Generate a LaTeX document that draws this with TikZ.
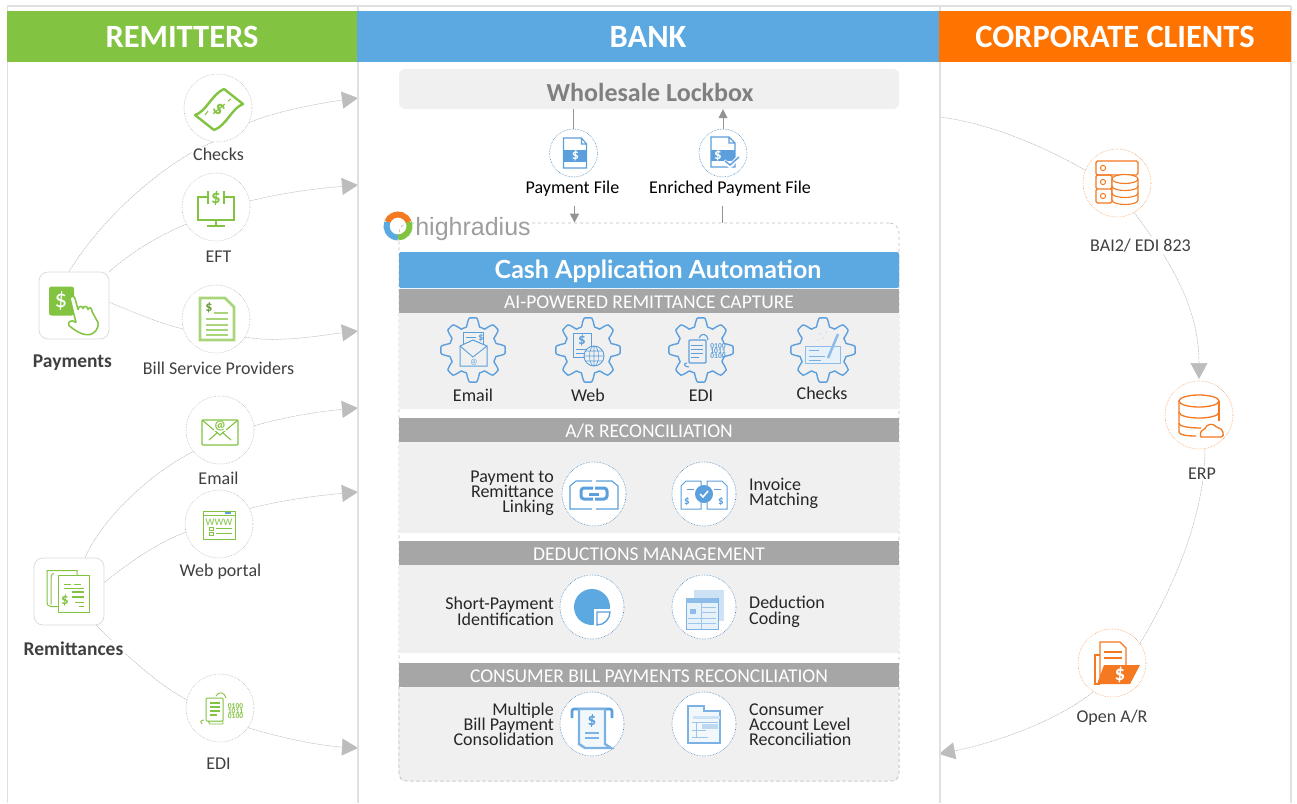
\documentclass[tikz,border=0pt]{standalone}
\usepackage{fontspec}
\setmainfont{Carlito}
\newfontfamily\latofont{Lato}
\newfontfamily\logofont{Liberation Sans}
\usetikzlibrary{arrows.meta,backgrounds}
\definecolor{cgreen}{HTML}{82C341}
\definecolor{cblue}{HTML}{5BA9E0}
\definecolor{iblue}{HTML}{5B9FDC}
\definecolor{corange}{HTML}{FF7300}
\definecolor{iorange}{HTML}{F47920}
\definecolor{secbg}{HTML}{F0F0F0}
\definecolor{barg}{HTML}{A6A6A6}
\definecolor{colline}{HTML}{E0E0E0}
\definecolor{connc}{HTML}{BDBDBD}
\definecolor{txt}{HTML}{404040}
\newcommand\fsz[1]{\fontsize{#1}{#1}\selectfont}
\newcommand\tightl[1]{\fontsize{18}{#1}\selectfont\lineskiplimit=-20pt\lineskip=0pt }
\tikzset{
  head/.style={fill=#1,text=white,font=\fsz{32.5}\bfseries,minimum height=51pt,inner sep=0pt,outer sep=0pt},
  bar/.style={fill=barg,text=white,font=\fsz{19.5},minimum width=500pt,minimum height=24pt,inner sep=0pt,text height=15pt,text depth=0pt},
  conn/.style={draw=connc,line width=.5pt,dash pattern=on 2pt off .7pt},
  arr/.style={conn,-{Triangle[length=16pt,width=17pt,color=connc]}},
  lab/.style={text=txt,font=\fsz{18},inner sep=1.5pt,fill=white},
  blab/.style={text=txt,font=\fsz{19.5}\bfseries,inner sep=1.5pt,fill=white},
  ring/.style={circle,draw=#1,densely dotted,line width=.6pt,fill=white,minimum size=68pt,inner sep=0pt},
  gring/.style={ring=gray!55},
  oring/.style={ring=iorange!70},
  bring/.style={ring=iblue!85!black,minimum size=64pt},
  tbox/.style={rounded corners=9pt,draw=black!15,line width=.7pt,fill=white,minimum width=70pt,minimum height=67pt},
  sl/.style={text=black!85,font=\tightl{15},inner sep=0pt,align=right},
  sll/.style={sl,align=left},
  gl/.style={text=black!85,font=\fsz{18},inner sep=0pt},
  flab/.style={text=black,font=\fsz{18},inner sep=1pt},
  flow/.style={draw=gray!85,line width=.8pt},
  flowa/.style={flow,-{Triangle[length=9pt,width=9pt,color=gray!85]}},
  % icons
  iccheck/.pic={
    \draw[cgreen,line width=2.4pt,line join=round] (-23,7) .. controls (-12,4) and (-6,-14) .. (6,-19) -- (25,-4) .. controls (14,0) and (8,18) .. (-4,22) -- cycle;
    \node[text=cgreen,font=\fsz{20}\bfseries,rotate=-45,inner sep=0] at (1,1) {\$};
    \draw[cgreen,line width=1pt] (-10,3)--(-13,7) (10,-7)--(13,-9);
  },
  iceft/.pic={
    \draw[cgreen,line width=1.1pt] (-8,-10)--(-18,-10)--(-18,13)--(18,13)--(18,-10)--(8,-10) (0,13)--(0,19) (-9,19)--(9,19);
    \draw[cgreen,line width=1.4pt] (-8,-16)--(-8,-3) (8,-16)--(8,-3);
    \node[text=cgreen,font=\fsz{19}\bfseries,inner sep=0] at (0,-9) {\$};
  },
  icbsp/.pic={
    \draw[cgreen!70,line width=2.8pt,fill=white] (-16,-21)--(9,-21)--(18,-12)--(18,21)--(-16,21)--cycle;
    \node[text=cgreen!80!black,font=\fsz{14}\bfseries,inner sep=0] at (-7,-11) {\$};
    \draw[cgreen!70,line width=1.8pt] (-2,-6)--(12,-6) (-10,0)--(12,0) (-10,6)--(12,6) (-10,11)--(12,11) (-10,16)--(12,16);
  },
  ichand/.pic={
    \fill[cgreen,rounded corners=2.5pt] (-25,-19) rectangle (0,10);
    \node[text=white,font=\fsz{25},inner sep=0] at (-13,-5) {\$};
    \draw[cgreen,line width=1.5pt,fill=white,line join=round] (-4,-7) .. controls (-3,-10) and (0,-10) .. (1,-7) -- (4,4) .. controls (5,0) and (8,0) .. (9,3) .. controls (10,0) and (13,0) .. (14,4) .. controls (15,1) and (18,2) .. (18,6) -- (24,17) .. controls (25,24) and (20,28) .. (16,29) .. controls (10,30) and (3,27) .. (-5,20) .. controls (-7,17) and (-3,13) .. (2,17) -- cycle;
  },
  icmail/.pic={
    \draw[cgreen,line width=1.2pt,rounded corners=1pt] (-18,-10) rectangle (18,15);
    \draw[cgreen,line width=1.1pt] (-18,-10)--(0,5)--(18,-10) (-11,10)--(-3,3) (11,10)--(3,3);
    \node[text=cgreen,font=\fsz{13}\bfseries,inner sep=0,fill=white] at (0,-4) {@};
  },
  icweb/.pic={
    \draw[cgreen,line width=1pt] (-16,-13) rectangle (16,15) (-16,-9)--(16,-9);
    \fill[iblue] (6,-12) rectangle (12,-10);
    \node[text=cgreen,font=\fsz{10},inner sep=0] at (0,-2) {WWW};
    \draw[cgreen,line width=.7pt] (-10,3) rectangle (-6,6) (-10,8) rectangle (-6,11);
    \draw[cgreen,line width=1.3pt] (-3,4.5)--(13,4.5) (-3,9.5)--(13,9.5);
  },
  icedi/.pic={
    \draw[cgreen,line width=.9pt] (-12,-7)--(-12,13)--(3,13)--(3,16)--(-10,16)--(-12,13);
    \draw[cgreen,line width=1pt,fill=white,rounded corners=1pt] (-14,-10) rectangle (3,13);
    \draw[cgreen,line width=1.1pt] (-10,-5)--(0,-5) (-10,-1)--(0,-1) (-10,3)--(0,3) (-10,7)--(-3,7);
    \draw[cgreen,line width=.9pt] (-4,-12) .. controls (-2,-17) and (5,-16) .. (6,-10) (-16,12) .. controls (-20,12) and (-20,15) .. (-18,16);
    \node[text=cgreen,font={\fontsize{7.5}{5}\selectfont\bfseries\lineskiplimit=-20pt\lineskip=0pt },inner sep=0,align=center] at (15.5,3.5) {0100\\1011\\0100};
  },
  icremit/.pic={
    \draw[cgreen,line width=1pt] (-11,15)--(-18,15) .. controls (-21,15) and (-22,13) .. (-22,11) -- (-22,-21)--(8,-21)--(8,-16);
    \draw[cgreen,line width=1pt] (-15,-18) .. controls (-18,-18) and (-18,-14) .. (-18,-12) -- (-18,13);
    \draw[cgreen,line width=1pt,fill=white] (-11,-16) -- (20,-16) -- (20,21) -- (-11,21) -- (-11,-16);
    \node[text=cgreen,font=\fsz{15}\bfseries,inner sep=0] at (-4,9) {\$};
    \draw[cgreen,line width=1pt] (-5,-7)--(2,-7) (5,-7)--(12,-7) (-5,-3)--(15,-3);
    \draw[cgreen,line width=2pt] (3,0)--(15,0) (3,5)--(15,5);
    \draw[cgreen,line width=1pt] (6,11)--(15,11) (10,15)--(15,15);
  },
  icfile/.pic={
    \draw[iblue,line width=1.1pt,fill=white] (-10,-15)--(8,-15)--(13,-9)--(13,15)--(-10,15)--cycle (8,-15)--(8,-9)--(13,-9);
    \fill[iblue] (-10,-3.5) rectangle (13,8.5);
    \node[text=white,font=\fsz{14}\bfseries,inner sep=0] at (2,2.5) {\$};
  },
  icfilec/.pic={
    \draw[iblue,line width=1.1pt,fill=white] (-12,-16)--(6,-16)--(12,-10)--(12,14)--(-12,14)--cycle (6,-16)--(6,-10)--(12,-10);
    \fill[iblue] (-12,-3) rectangle (12,8);
    \node[text=white,font=\fsz{15}\bfseries,inner sep=0] at (-5,2) {\$};
    \draw[white,line width=4pt] (1,8)--(7,13)--(17,3);
    \draw[iblue,line width=1.4pt] (2,8)--(7,12)--(16,4);
  },
  gearc/.pic={
    \draw[iblue,line width=1.4pt,fill=secbg,line join=round] plot[domain=0:359,samples=180,smooth] (\x:{28+4.2*max(-1,min(1,1.7*cos(8*\x)))}) -- cycle;
  },
  igmail/.pic={
    \draw[iblue,line width=.9pt] (-10,-18) rectangle (10,0);
    \draw[iblue,line width=.9pt] (-7,-13)--(3,-13) (-4,-8)--(7,-8);
    \node[text=iblue,font=\fsz{10}\bfseries,inner sep=0] at (8,-12) {\$};
    \draw[iblue,line width=1pt,fill=secbg] (-13,-4)--(0,-10)--(14,-4)--(14,16)--(-13,16)--cycle;
    \draw[iblue,line width=.9pt] (-13,-4)--(0,7)--(14,-4);
    \node[text=iblue,font=\fsz{8},inner sep=0] at (1,12) {@};
  },
  igweb/.pic={
    \draw[iblue,line width=1pt] (-15,-17) rectangle (3,7);
    \node[text=iblue,font=\fsz{15}\bfseries,inner sep=0] at (-6,-10) {\$};
    \draw[iblue,line width=.9pt] (-12,-1)--(0,-1) (-12,3)--(-2,3);
    \draw[iblue,line width=.9pt,fill=secbg] (6,6) circle (10);
    \draw[iblue,line width=.6pt] (6,6) ellipse (4.5 and 10) (-4,6)--(16,6) (-2.5,1)--(14.5,1) (-2.5,11)--(14.5,11) (6,-4)--(6,16);
  },
  igedi/.pic={
    \draw[iblue,line width=1.1pt,rounded corners=1pt] (-12,-10) rectangle (5,13);
    \draw[iblue,line width=1pt] (-10,-5)--(2,-5) (-10,-1)--(2,-1) (-10,3)--(2,3) (-10,7)--(-2,7);
    \draw[iblue,line width=1.1pt] (-2,-12) .. controls (0,-18) and (7,-16) .. (7,-10) (-14,13) .. controls (-18,13) and (-17,17) .. (-12,17);
    \node[text=iblue,font={\fontsize{7.5}{5}\selectfont\bfseries\lineskiplimit=-20pt\lineskip=0pt },inner sep=0,align=center] at (17,1) {0100\\1011\\0100};
  },
  igchk/.pic={
    \draw[iblue!70,line width=.9pt,fill=iblue!15] (-18,-4) rectangle (17,13);
    \draw[iblue!80,line width=.8pt] (-14,0)--(-4,0) (-14,6)--(2,6) (-14,10)--(-2,10);
    \draw[iblue!70,line width=2.5pt] (5,8)--(15,-16);
    \fill[iblue!30] (-3,-16) circle (1) (0,-12) circle (1) (3,-18) circle (1) (-5,-10) circle (.8);
  },
  iclink/.pic={
    \draw[iblue,line width=1.1pt] (-2,-13)--(-18,-13)--(-24,-8)--(-24,15)--(-2,15) (2,-13)--(18,-13)--(24,-8)--(24,15)--(2,15);
    \draw[iblue,line width=3pt,rounded corners=3pt] (-1,-6)--(-13,-6)--(-13,5)--(-1,5) (1,-6)--(13,-6)--(13,5)--(1,5);
    \draw[iblue,line width=3pt] (-5,0)--(5,0);
  },
  icmatch/.pic={
    \draw[iblue,line width=1pt] (-3,-13)--(-18,-13)--(-23,-8)--(-23,15)--(-3,15)--cycle (3,-13)--(18,-13)--(23,-8)--(23,15)--(3,15)--cycle;
    \draw[iblue,line width=.8pt] (-17,-5)--(-10,-5) (10,-5)--(17,-5);
    \node[text=iblue,font=\fsz{11}\bfseries,inner sep=0] at (-17,8) {\$};
    \node[text=iblue,font=\fsz{11}\bfseries,inner sep=0] at (17,8) {\$};
    \fill[iblue] (0,0) circle (9);
    \draw[white,line width=1.6pt] (-4,0)--(-1,3)--(4,-3);
  },
  icpie/.pic={
    \fill[cblue] (0,0) circle (18);
    \draw[white,line width=1.5pt,fill=white] (3,3) rectangle (19,19);
    \draw[iblue,line width=1.3pt,fill=white] (5,5)--(18,5) arc (0:90:13) -- cycle;
  },
  iccode/.pic={
    \fill[iblue!30] (-10,-17) rectangle (20,14);
    \draw[iblue!80,line width=1pt,fill=iblue!15] (-18,-9) rectangle (14,22);
    \fill[iblue!70] (-18,-9) rectangle (14,-4);
    \fill[iblue!70] (-14,2) rectangle (-8,7);
    \draw[iblue!60,line width=1pt] (-2,0)--(12,0) (-2,5)--(12,5) (-16,11)--(12,11) (-16,16)--(12,16) (-3,-4)--(-3,22);
  },
  icatm/.pic={
    \draw[iblue,line width=2.6pt,rounded corners=2pt] (-20,-6)--(-20,-15)--(20,-15)--(20,-6);
    \draw[iblue!80,line width=2.4pt,fill=iblue!8] (-13,-15)--(13,-15)--(13,20)--(19,24)--(-7,24)--(-13,20)--cycle;
    \node[text=iblue,font=\fsz{17}\bfseries,inner sep=0] at (0,-3) {\$};
    \draw[iblue!80,line width=1.4pt] (-7,9)--(7,9) (-7,14)--(7,14);
  },
  icfold/.pic={
    \draw[iblue!80,line width=2pt,fill=iblue!8] (-16,-18)--(0,-18)--(0,-13)--(16,-13)--(16,19)--(-16,19)--cycle;
    \fill[iblue!30] (-11,-8) rectangle (16,-5);
    \draw[iblue!60,line width=1pt] (-12,-2)--(14,-2) (-8,-2)--(-8,14) (-12,6)--(2,6) (-12,13)--(4,13);
    \fill[iblue!40] (-2,0) rectangle (14,5);
  },
  icsrv/.pic={
    \draw[iorange,line width=1.1pt,rounded corners=1.5pt] (-21,-22) rectangle (21,-8);
    \draw[iorange,line width=1.1pt,rounded corners=1.5pt] (-21,-8) rectangle (-5,6) (-21,6) rectangle (-5,20);
    \draw[iorange,line width=1pt] (-14,-15) circle (2.6) (-14,-1) circle (2.6) (-14,13) circle (2.6);
    \draw[iorange,line width=1.1pt,fill=white] (-5,-4) -- (-5,17) .. controls (-5,23) and (21,23) .. (21,17) -- (21,-4);
    \draw[iorange,line width=1.1pt,fill=white] (8,-4) ellipse (13 and 4.5);
    \draw[iorange,line width=1.1pt] (-5,3) .. controls (-5,9) and (21,9) .. (21,3) (-5,10) .. controls (-5,16) and (21,16) .. (21,10);
  },
  icdb/.pic={
    \draw[iorange,line width=1.3pt] (0,-14) ellipse (20 and 6);
    \draw[iorange,line width=1.3pt] (-20,-14)--(-20,17) .. controls (-20,20) and (-12,21) .. (-3,21);
    \draw[iorange,line width=1.3pt] (20,-14)--(20,6);
    \draw[iorange,line width=1.3pt] (-20,-3) .. controls (-20,5) and (20,5) .. (20,-3);
    \draw[iorange,line width=1.3pt] (-20,8) .. controls (-20,12) and (-8,13) .. (2,13);
    \draw[iorange,line width=1.3pt,fill=white,rounded corners=2pt] (6,22) -- (4,22) .. controls (1,22) and (1,15) .. (6,15) .. controls (7,9) and (15,8) .. (17,13) .. controls (23,12) and (27,22) .. (20,22) -- cycle;
  },
  icfol/.pic={
    \draw[iorange,line width=1.4pt] (-12,-8) -- (-17,-8)--(-17,21)--(-12,21);
    \draw[iorange,line width=1.4pt,fill=white] (-12,14)--(-12,-21)--(8,-21)--(14,-15)--(14,4);
    \draw[iorange,line width=1.5pt] (-8,-11)--(10,-11) (-8,-5)--(10,-5) ;
    \fill[iorange] (-8,2) -- (28,2) -- (18,21) -- (-15,21) -- cycle;
    \node[text=white,font=\fsz{21}\bfseries,inner sep=0] at (8,12) {\$};
  },
}
\begin{document}
\begin{tikzpicture}[x=1pt,y=-1pt]
\useasboundingbox (0,0) rectangle (1297,803);
% frame lines
\draw[colline,line width=1.6pt] (7,6)--(1291,6);
\foreach \xx in {7.5,358,940,1291}{\draw[colline,line width=1.6pt] (\xx,6)--(\xx,803);}
% column headers
\node[head=cgreen,minimum width=350pt] (hrem) at (182,36.5) {REMITTERS};
\node[head=cblue,minimum width=582pt] (hbank) at (648,36.5) {BANK};
\node[head=corange,minimum width=352pt] (hcorp) at (1115,36.5) {CORPORATE CLIENTS};
% left column
\node[gring] (checks) at (218,108) {}; \pic at (checks) {iccheck};
\node[gring] (eft) at (216,207) {}; \pic at (eft) {iceft};
\node[gring] (bsp) at (216,319) {}; \pic at (bsp) {icbsp};
\node[gring] (email) at (220,430) {}; \pic at (email) {icmail};
\node[gring] (web) at (219,524) {}; \pic at (web) {icweb};
\node[gring] (edi) at (220,708) {}; \pic at (edi) {icedi};
\node[tbox] (pay) at (74,305.5) {}; \pic at (pay) {ichand};
\node[tbox] (rem) at (69,591.5) {}; \pic at (rem) {icremit};
\node[lab] (lchecks) at (218.5,154.5) {Checks};
\node[lab] (left) at (218.5,257) {EFT};
\node[lab] (lbsp) at (218.5,368.5) {Bill Service Providers};
\node[lab] (lemail) at (218.5,478.5) {Email};
\node[lab] (lweb) at (220.5,572) {Web portal};
\node[lab] (ledi) at (218.5,763.5) {EDI};
\node[blab] (lpay) at (72.5,362.5) {Payments};
\node[blab] (lrem) at (73.5,648.5) {Remittances};
\coordinate (a1) at (358,98);
\coordinate (a2) at (358,185);
\coordinate (a3) at (358,331);
\coordinate (a4) at (358,408);
\coordinate (a5) at (358,492);
\coordinate (a6) at (358,748);
% bank top
\node[fill=secbg,rounded corners=6pt,minimum width=500pt,minimum height=40pt,inner sep=0pt] (lock) at (649,89) {};
\node[text=black!50,font=\fsz{26}\bfseries,inner sep=0pt] (locktxt) at (650,92) {Wholesale Lockbox};
\node[bring,minimum size=48pt] (pf) at (573.5,153) {}; \pic at (pf) {icfile};
\node[bring,minimum size=48pt] (epf) at (723,153) {}; \pic at (epf) {icfilec};
\node[flab] (lpf) at (572.5,188.5) {Payment File};
\node[flab] (lepf) at (730,188.5) {Enriched Payment File};
\coordinate (pfb) at (574.5,206);
\coordinate (epb) at (722.5,206);
% platform
\node[draw=black!25,dashed,rounded corners=10pt,line width=.7pt,minimum width=500pt,minimum height=558pt,inner sep=0pt] (plat) at (649,502) {};
\fill[secbg] (399,313) rectangle (899,409) (399,442) rectangle (899,533) (399,564) rectangle (899,653);
\fill[secbg,rounded corners=4pt] (399,687) -- (399,781) -- (899,781) -- (899,687) -- cycle;
\draw[black!25,dashed,line width=.7pt,rounded corners=8pt] (399,687)--(399,781)--(899,781)--(899,687);
\fill[cblue,rounded corners=2pt] (399,288) -- (399,252) -- (899,252) -- (899,288) -- cycle;
\node[text=white,font={\latofont\fsz{25}\bfseries},inner sep=0pt] (cash) at (658,271) {Cash Application Automation};
\node[bar] (b1) at (649,301) {AI-POWERED REMITTANCE CAPTURE};
\node[bar] (b2) at (649,430) {A/R RECONCILIATION};
\node[bar] (b3) at (649,552.5) {DEDUCTIONS MANAGEMENT};
\node[bar] (b4) at (649,675) {CONSUMER BILL PAYMENTS RECONCILIATION};
% logo
\node[fill=white,inner sep=1pt,text=black!38,font={\logofont\fsz{25}}] (logo) at (473,229) {highradius};
\draw[iorange,line width=6pt] (398,226) ++(200:11.5) arc (200:340:11.5);
\draw[cblue,line width=6pt] (398,226) ++(90:11.5) arc (90:200:11.5);
\draw[cgreen,line width=6pt] (398,226) ++(340:11.5) arc (340:450:11.5);
% gears
\coordinate (g1) at (473,350); \coordinate (g2) at (588,350); \coordinate (g3) at (701,350); \coordinate (g4) at (823,350);
\pic at (g1) {gearc}; \pic at (g1) {igmail};
\pic at (g2) {gearc}; \pic at (g2) {igweb};
\pic at (g3) {gearc}; \pic at (g3) {igedi};
\pic at (g4) {gearc}; \pic at (g4) {igchk};
\node[gl] (tg1) at (473,395.5) {Email};
\node[gl] (tg2) at (588,395.5) {Web};
\node[gl] (tg3) at (701,395.5) {EDI};
\node[gl] (tg4) at (822,393.5) {Checks};
% sections
\node[bring] (c1) at (594,494) {}; \pic at (c1) {iclink};
\node[bring] (c2) at (704,494) {}; \pic at (c2) {icmatch};
\node[bring] (c3) at (592,607) {}; \pic at (c3) {icpie};
\node[bring] (c4) at (704,607) {}; \pic at (c4) {iccode};
\node[bring] (c5) at (592,724) {}; \pic at (c5) {icatm};
\node[bring] (c6) at (704,724) {}; \pic at (c6) {icfold};
\node[sl,anchor=east] (t1) at (554,493.5) {Payment to\\Remittance\\Linking};
\node[sll,anchor=west] (t2) at (749,493) {Invoice\\Matching};
\node[sl,anchor=east,font=\tightl{16}] (t3) at (554,611.5) {Short-Payment\\Identification};
\node[sll,anchor=west,font=\tightl{16}] (t4) at (749,611.5) {Deduction\\Coding};
\node[sl,anchor=east] (t5) at (554,724.5) {Multiple\\Bill Payment\\Consolidation};
\node[sll,anchor=west] (t6) at (749,724.5) {Consumer\\Account Level\\Reconciliation};
% right column
\node[oring] (bai) at (1117,183) {}; \pic at (bai) {icsrv};
\node[oring] (erp) at (1199,415) {}; \pic at (erp) {icdb};
\node[oring] (oar) at (1112,663) {}; \pic at (oar) {icfol};
\node[lab] (lbai) at (1140.5,245.5) {BAI2/ EDI 823};
\node[lab] (lerp) at (1202,473.5) {ERP};
\node[lab] (loar) at (1112,717.5) {Open A/R};
\coordinate (rs) at (940,117);
\coordinate (re) at (939,754);
\coordinate (etop) at (1199,379);
\begin{scope}[on background layer]
\draw[conn] ([xshift=-5pt]pay.north) .. controls +(38,-62) and +(-40,16) .. (checks.262);
\draw[arr] (checks.-25) .. controls +(32,-13) and +(-30,4) .. (a1);
\draw[conn] (pay.north east) .. controls +(25,-22) and +(-26,11) .. (eft.210);
\draw[arr] (eft.10) .. controls +(35,-9) and +(-35,3) .. (a2);
\draw[conn] (pay.5) .. controls +(25,10) and +(-25,-6) .. (bsp.197);
\draw[arr] (bsp.-32) .. controls +(35,6) and +(-35,4) .. (a3);
\draw[conn] ([xshift=16pt]rem.north) .. controls +(20,-45) and +(-35,17) .. (email.219);
\draw[arr] (email.7) .. controls +(35,-10) and +(-35,3) .. (a4);
\draw[conn] ([yshift=9pt]rem.east) .. controls +(22,-18) and +(-28,10) .. (web.194);
\draw[arr] (web.27) .. controls +(35,-9) and +(-35,3) .. (a5);
\draw[conn] ([xshift=-8pt]rem.south east) .. controls +(30,30) and +(-30,-16) .. (edi.166);
\draw[arr] (edi.-35) .. controls +(35,11) and +(-35,-2) .. (a6);
\draw[conn] (rs) .. controls +(55,7) and +(-35,-20) .. (bai.158);
\draw[arr] (bai.-60) .. controls +(38,50) and +(0,-70) .. (etop);
\draw[conn] (erp.-80) .. controls +(0,70) and +(30,-50) .. (oar.35);
\draw[arr] (oar.237) .. controls +(-40,32) and +(50,-10) .. (re);
\end{scope}
% lockbox flows
\draw[flow] (pf.north |- lock.south) -- (pf.north);
\draw[flowa] (pfb) -- (plat.north -| pfb);
\draw[flow] (plat.north -| epb) -- (epb);
\draw[flowa] (epf.north) -- (lock.south -| epf.north);
\end{tikzpicture}
\end{document}
